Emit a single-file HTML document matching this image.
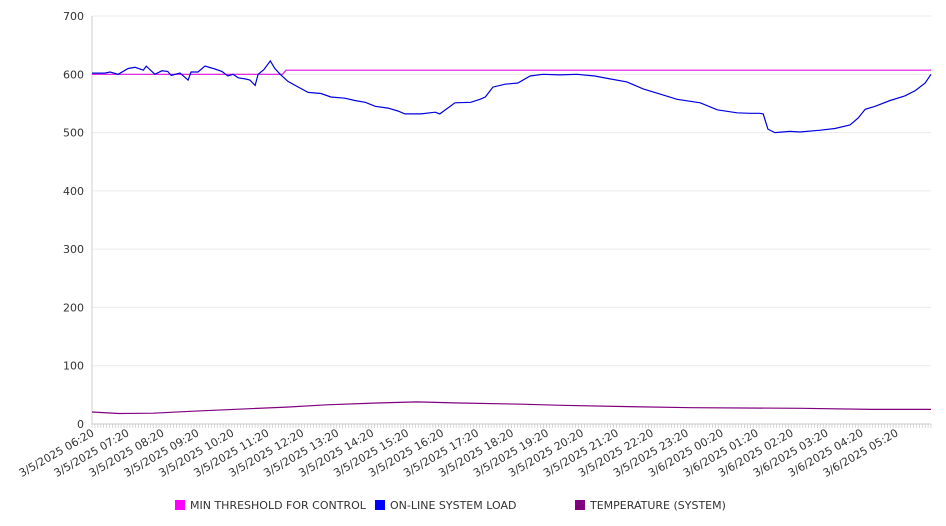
<!DOCTYPE html>
<html><head><meta charset="utf-8"><style>
body{margin:0;background:#fff;}
svg{display:block;font-family:"DejaVu Sans","Liberation Sans",sans-serif;}
</style></head><body>
<svg id="chart" width="946" height="526"></svg>
<script>
const xTickLabels=["3/5/2025 06:20","3/5/2025 07:20","3/5/2025 08:20","3/5/2025 09:20","3/5/2025 10:20","3/5/2025 11:20","3/5/2025 12:20","3/5/2025 13:20","3/5/2025 14:20","3/5/2025 15:20","3/5/2025 16:20","3/5/2025 17:20","3/5/2025 18:20","3/5/2025 19:20","3/5/2025 20:20","3/5/2025 21:20","3/5/2025 22:20","3/5/2025 23:20","3/6/2025 00:20","3/6/2025 01:20","3/6/2025 02:20","3/6/2025 03:20","3/6/2025 04:20","3/6/2025 05:20"];
const yTicks=[0,100,200,300,400,500,600,700];
const loadMinutes=[0,22,31,45,62,74,88,93,108,120,130,136,151,165,170,182,194,211,223,233,242,251,263,271,280,285,295,306,314,323,336,354,371,393,410,434,451,469,486,508,525,537,565,589,597,623,650,666,675,688,709,731,752,774,803,832,863,889,918,946,975,1004,1044,1073,1107,1129,1146,1152,1160,1172,1198,1215,1250,1275,1301,1315,1327,1344,1370,1395,1413,1430,1440];
const loadValues=[602,602,604,600,610,612,607,614,600,606,605,598,602,590,604,604,614,609,605,597,600,594,592,590,581,600,608,623,610,600,588,578,569,567,561,559,555,552,545,542,537,532,532,535,532,551,552,557,561,578,583,585,597,600,599,600,597,592,587,575,566,557,551,539,534,533,533,532,506,500,502,501,504,507,513,525,540,545,555,563,572,585,600];
const thrMinutes=[0,327,333,1440];
const thrValues=[600,600,607,607];
const tempMinutes=[0,46,105,174,266,334,403,489,558,629,738,806,909,1029,1218,1338,1440];
const tempValues=[20.6,18,18.5,22,26,29,33,36,38,36,34,32,30,28,27,25,25];

const NS="http://www.w3.org/2000/svg";
const svg=document.getElementById('chart');
const X0=92,X1=931,Y0=424,Y1=16,TMAX=1440,VMAX=700;
const xs=m=>X0+(m/TMAX)*(X1-X0);
const ys=v=>Y0-(v/VMAX)*(Y0-Y1);
function mk(t,a){const e=document.createElementNS(NS,t);for(const k in a)e.setAttribute(k,a[k]);svg.appendChild(e);return e;}

yTicks.forEach(v=>{
  const g=mk('line',{x1:X0,x2:X1,y1:ys(v),y2:ys(v),stroke:v===0?'#ccc':'#ebebeb','stroke-width':1});
  
  
  const t=mk('text',{x:X0-8,y:ys(v)+4,'text-anchor':'end','font-size':11,fill:'#333'});
  t.textContent=v;
  
  
});
const ax=mk('line',{x1:X0,x2:X0,y1:Y1,y2:Y0,stroke:'#ccc'});


for(let m=0;m<=TMAX;m+=5){
  const tk=mk('line',{x1:xs(m),x2:xs(m),y1:Y0,y2:Y0+4,stroke:'#c8c8c8','stroke-width':0.7});
  
  
}
xTickLabels.forEach((s,i)=>{
  const x=xs(i*60)+3,y=Y0+11;
  const t=mk('text',{x:x,y:y,'text-anchor':'end','font-size':11,fill:'#333',transform:`rotate(-30 ${x} ${y})`});
  t.textContent=s;
  
  
});
function series(ms,vs,color,name){
  const d=ms.map((m,i)=>(i?'L':'M')+xs(m).toFixed(1)+','+ys(vs[i]).toFixed(1)).join('');
  const p=mk('path',{d:d,fill:'none',stroke:color,'stroke-width':1.2});
  
  
}
series(thrMinutes,thrValues,'#e010e0','min-threshold-line');
series(tempMinutes,tempValues,'#800080','temperature-line');
series(loadMinutes,loadValues,'#0000dd','online-load-line');

const legend=[["MIN THRESHOLD FOR CONTROL","#ff00ff",175],["ON-LINE SYSTEM LOAD","#0000ff",375],["TEMPERATURE (SYSTEM)","#800080",575]];
legend.forEach(([lab,c,x])=>{
  const r=mk('rect',{x:x,y:500,width:10,height:10,fill:c});
  
  
  const t=mk('text',{x:x+15,y:509,'font-size':11,fill:'#333'});
  t.textContent=lab;
  
  
});
</script>
</body></html>
